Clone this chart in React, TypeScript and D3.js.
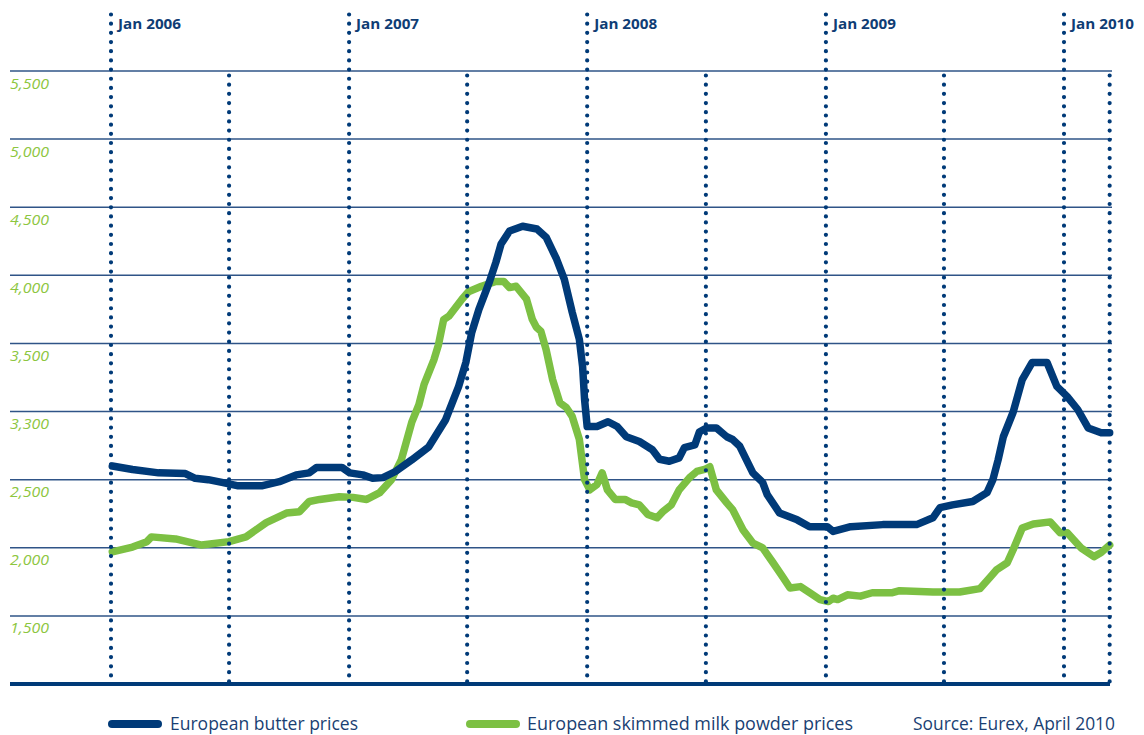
import React from "react";
import * as d3 from "d3";

const butterDates = ["2006-01-03","2006-02-03","2006-03-15","2006-04-25","2006-05-10","2006-05-30","2006-06-20","2006-07-15","2006-08-20","2006-09-16","2006-10-12","2006-11-01","2006-11-12","2006-12-21","2007-01-02","2007-01-22","2007-02-06","2007-02-22","2007-03-13","2007-04-07","2007-05-03","2007-05-29","2007-06-18","2007-06-29","2007-07-08","2007-07-19","2007-08-04","2007-08-14","2007-08-22","2007-09-04","2007-09-24","2007-10-16","2007-10-30","2007-11-15","2007-11-27","2007-12-09","2007-12-20","2007-12-25","2007-12-28","2008-01-01","2008-01-16","2008-02-02","2008-02-16","2008-03-01","2008-03-21","2008-04-10","2008-04-21","2008-05-06","2008-05-21","2008-05-29","2008-06-14","2008-06-21","2008-07-02","2008-07-17","2008-08-02","2008-08-11","2008-08-22","2008-09-11","2008-09-26","2008-10-03","2008-10-22","2008-11-18","2008-12-07","2009-01-03","2009-01-12","2009-02-08","2009-03-29","2009-05-20","2009-06-14","2009-06-25","2009-07-14","2009-08-14","2009-09-05","2009-09-14","2009-09-22","2009-09-30","2009-10-15","2009-10-29","2009-11-13","2009-12-06","2009-12-21","2010-01-06","2010-01-22","2010-02-07","2010-02-27","2010-03-12"];
const butterValues = [2600,2575,2550,2545,2510,2500,2480,2455,2455,2485,2535,2550,2590,2590,2550,2535,2510,2515,2560,2645,2740,2940,3185,3360,3580,3750,3950,4095,4230,4325,4360,4340,4280,4120,3970,3730,3530,3330,3090,2890,2890,2925,2890,2815,2780,2720,2650,2635,2660,2735,2755,2850,2880,2880,2815,2795,2745,2550,2480,2390,2255,2205,2155,2155,2120,2155,2170,2170,2220,2295,2315,2340,2405,2500,2645,2815,2995,3235,3360,3360,3185,3110,3015,2880,2845,2845];

const smpDates = ["2006-01-03","2006-02-03","2006-02-25","2006-03-04","2006-04-10","2006-05-20","2006-07-01","2006-07-27","2006-08-27","2006-09-27","2006-10-17","2006-11-01","2006-11-17","2006-12-17","2007-01-07","2007-01-28","2007-02-17","2007-03-07","2007-03-22","2007-04-07","2007-04-18","2007-04-26","2007-05-11","2007-05-18","2007-05-26","2007-06-03","2007-06-23","2007-07-03","2007-07-23","2007-08-14","2007-08-26","2007-09-04","2007-09-14","2007-09-30","2007-10-09","2007-10-15","2007-10-22","2007-10-30","2007-11-09","2007-11-20","2007-11-30","2007-12-09","2007-12-20","2007-12-28","2008-01-05","2008-01-16","2008-01-24","2008-02-01","2008-02-13","2008-02-28","2008-03-09","2008-03-21","2008-04-03","2008-04-17","2008-04-26","2008-05-09","2008-05-21","2008-06-06","2008-06-17","2008-06-29","2008-07-07","2008-07-17","2008-08-02","2008-08-11","2008-08-27","2008-09-11","2008-09-26","2008-10-12","2008-10-27","2008-11-07","2008-11-23","2008-12-07","2008-12-23","2009-01-05","2009-01-12","2009-01-19","2009-02-03","2009-02-23","2009-03-13","2009-04-13","2009-04-24","2009-06-14","2009-07-25","2009-08-25","2009-09-10","2009-09-20","2009-10-06","2009-10-15","2009-10-29","2009-11-15","2009-12-11","2009-12-26","2010-01-06","2010-01-27","2010-02-16","2010-02-27","2010-03-12"];
const smpValues = [1970,2005,2045,2080,2065,2020,2045,2080,2185,2255,2265,2340,2355,2375,2370,2355,2405,2500,2645,2920,3050,3200,3380,3490,3675,3700,3825,3880,3920,3955,3955,3910,3920,3825,3675,3620,3590,3455,3235,3065,3030,2965,2795,2500,2425,2465,2550,2425,2355,2355,2330,2315,2245,2220,2265,2315,2425,2515,2560,2575,2595,2425,2330,2280,2130,2035,2000,1890,1785,1705,1715,1670,1620,1605,1630,1620,1655,1645,1670,1670,1685,1675,1675,1700,1785,1840,1890,1985,2145,2175,2190,2110,2110,2000,1935,1965,2020];

const yTickValues = [1500, 2000, 2500, 3000, 3500, 4000, 4500, 5000, 5500];
const yTickLabels = ["1,500", "2,000", "2,500", "3,300", "3,500", "4,000", "4,500", "5,000", "5,500"];
const yearLines = ["2006-01-01", "2007-01-01", "2008-01-01", "2009-01-01", "2010-01-01"];
const yearLabels = ["Jan 2006", "Jan 2007", "Jan 2008", "Jan 2009", "Jan 2010"];
const halfYearLines = ["2006-07-01", "2007-07-01", "2008-07-01", "2009-07-01", "2010-03-12"];
const seriesNames = ["European butter prices", "European skimmed milk powder prices"];
const sourceText = "Source: Eurex, April 2010";

const BLUE = "#003a78";
const GREEN = "#7cc043";
const GRID = "#2f5487";
const FONT = "'Open Sans', sans-serif";

export default function App() {
  const parse = d3.timeParse("%Y-%m-%d");
  const x = d3.scaleTime().domain([parse("2006-01-01")!, parse("2010-01-01")!]).range([111, 1064]);
  const y = d3.scaleLinear().domain([1000, 5500]).range([684, 71]);

  const line = d3
    .line<[Date, number]>()
    .x((d) => x(d[0]))
    .y((d) => y(d[1]));

  const butter: [Date, number][] = butterDates.map((d, i) => [parse(d)!, butterValues[i]]);
  const smp: [Date, number][] = smpDates.map((d, i) => [parse(d)!, smpValues[i]]);

  return (
    <svg
      width={1144}
      height={735}
      style={{ position: "absolute", left: 0, top: 0, background: "#fff" }}
    >
      {yTickValues.map((v) => (
        <line key={"g" + v} x1={10} x2={1112} y1={y(v)} y2={y(v)} stroke={GRID} strokeWidth={1.5} />
      ))}
      <line x1={10} x2={1110} y1={y(1000)} y2={y(1000)} stroke={BLUE} strokeWidth={4} />
      {yTickValues.map((v, i) => (
        <text
          key={"t" + v}
          x={10}
          y={y(v) + 17.5}
          fill="#8dc63f"
          fontStyle="italic"
          fontFamily={FONT}
          fontSize={15}
          textLength={39}
          lengthAdjust="spacingAndGlyphs"
        >
          {yTickLabels[i]}
        </text>
      ))}

      <path d={line(smp)!} fill="none" stroke={GREEN} strokeWidth={7.5} strokeLinejoin="round" strokeLinecap="round" />
      <path d={line(butter)!} fill="none" stroke={BLUE} strokeWidth={7.5} strokeLinejoin="round" strokeLinecap="round" />

      {yearLines.map((d, i) => {
        const xx = x(parse(d)!);
        return (
          <g key={"y" + d}>
            <line x1={xx} x2={xx} y1={14.5} y2={684} stroke={BLUE} strokeWidth={4.2} strokeDasharray="0 9.18" strokeLinecap="round" />
            <text x={xx + 7} y={28.5} fill="#0f3d75" fontWeight="bold" fontFamily={FONT} fontSize={15} textLength={63} lengthAdjust="spacingAndGlyphs">
              {yearLabels[i]}
            </text>
          </g>
        );
      })}
      {halfYearLines.map((d) => {
        const xx = x(parse(d)!);
        return (
          <line key={"h" + d} x1={xx} x2={xx} y1={75.5} y2={684} stroke={BLUE} strokeWidth={4.2} strokeDasharray="0 9.18" strokeLinecap="round" />
        );
      })}

      <line x1={112} x2={158} y1={724} y2={724} stroke={BLUE} strokeWidth={8} strokeLinecap="round" />
      <text x={170} y={730} fill="#1a3f73" fontFamily={FONT} fontSize={18} textLength={188} lengthAdjust="spacingAndGlyphs">
        {seriesNames[0]}
      </text>
      <line x1={470} x2={516} y1={724} y2={724} stroke={GREEN} strokeWidth={8} strokeLinecap="round" />
      <text x={527} y={730} fill="#1a3f73" fontFamily={FONT} fontSize={18} textLength={326} lengthAdjust="spacingAndGlyphs">
        {seriesNames[1]}
      </text>
      <text x={913} y={730} fill="#1a3f73" fontFamily={FONT} fontSize={18} textLength={202} lengthAdjust="spacingAndGlyphs">
        {sourceText}
      </text>
    </svg>
  );
}
